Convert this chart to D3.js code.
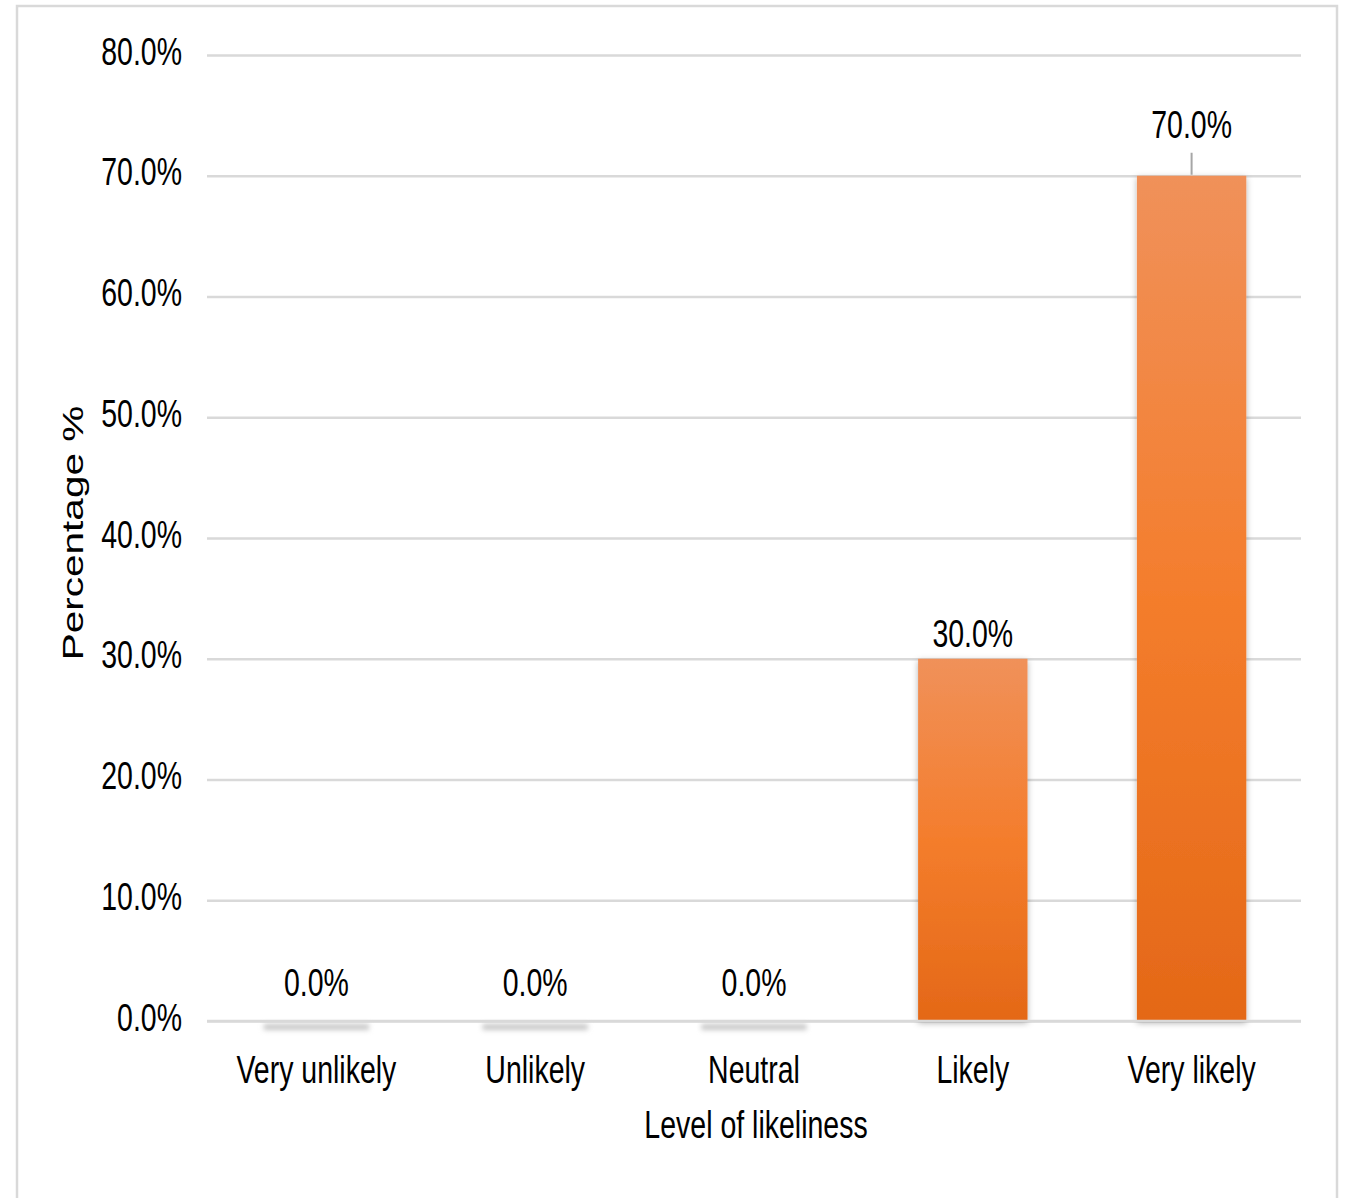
<!DOCTYPE html>
<html>
<head>
<meta charset="utf-8">
<script src="https://cdn.jsdelivr.net/npm/d3@7"></script>
<style>
  html, body { margin: 0; padding: 0; background: #fff; }
  svg { display: block; }
  text { font-family: "Liberation Sans", Arial, sans-serif; fill: #000; }
</style>
</head>
<body>
<svg id="chart" width="1348" height="1198"></svg>
<script>
const categories = ["Very unlikely", "Unlikely", "Neutral", "Likely", "Very likely"];
const values = [0.0, 0.0, 0.0, 30.0, 70.0];
const yTicks = [0, 10, 20, 30, 40, 50, 60, 70, 80];
const xTitle = "Level of likeliness";
const yTitle = "Percentage %";

const W = 1348, H = 1198;
const margin = { left: 207, right: 47, top: 55, bottom: 177 };
const fs = 28.5, sy = 1.35;

const svg = d3.select("#chart");
const defs = svg.append("defs");

const grad = defs.append("linearGradient").attr("id", "barGrad")
  .attr("x1", 0).attr("y1", 0).attr("x2", 0).attr("y2", 1);
grad.append("stop").attr("offset", "0%").attr("stop-color", "#F0915A");
grad.append("stop").attr("offset", "50%").attr("stop-color", "#F47D2C");
grad.append("stop").attr("offset", "100%").attr("stop-color", "#E46817");

const shadow = defs.append("filter").attr("id", "shadow")
  .attr("x", "-20%").attr("y", "-20%").attr("width", "140%").attr("height", "140%");
shadow.append("feDropShadow").attr("dx", 0).attr("dy", 2)
  .attr("stdDeviation", 3).attr("flood-color", "#000").attr("flood-opacity", 0.3);

const blur = defs.append("filter").attr("id", "blur")
  .attr("x", "-20%").attr("y", "-200%").attr("width", "140%").attr("height", "500%");
blur.append("feGaussianBlur").attr("stdDeviation", 2.5);

// Chart border
svg.append("rect").attr("x", 17).attr("y", 6).attr("width", 1320).attr("height", H + 20)
  .attr("fill", "none").attr("stroke", "#d9d9d9").attr("stroke-width", 2.5);

const x = d3.scaleBand().domain(categories)
  .range([margin.left, W - margin.right]).paddingInner(0.5).paddingOuter(0.25);
const y = d3.scaleLinear().domain([0, 80]).range([1021, 55]);

// Gridlines
const grid = d3.axisLeft(y).tickValues(yTicks).tickSize(-(W - margin.right - margin.left)).tickFormat("");
const gG = svg.append("g").attr("transform", `translate(${margin.left},0)`).call(grid);
gG.select(".domain").remove();
gG.selectAll("line").attr("stroke", "#d9d9d9").attr("stroke-width", 2.5);

// Y tick labels
const yAxis = d3.axisLeft(y).tickValues(yTicks).tickSize(0).tickPadding(0)
  .tickFormat(d => d3.format(".1f")(d) + "%");
const yG = svg.append("g").attr("transform", `translate(182,0)`).call(yAxis);
yG.select(".domain").remove();
yG.selectAll("text")
  .attr("font-size", fs).attr("dy", null).attr("x", 0).attr("y", 0)
  .attr("text-anchor", "end")
  .attr("transform", `translate(0,9) scale(1,${sy})`);

// Bars
const bars = svg.append("g");
categories.forEach((c, i) => {
  const v = values[i];
  if (v > 0) {
    bars.append("rect")
      .attr("x", x(c)).attr("width", x.bandwidth())
      .attr("y", y(v)).attr("height", y(0) - y(v))
      .attr("fill", "url(#barGrad)")
      .attr("filter", "url(#shadow)");
  } else {
    bars.append("rect")
      .attr("x", x(c) + 2).attr("width", x.bandwidth() - 4)
      .attr("y", y(0) + 3).attr("height", 6)
      .attr("fill", "#c8c8c8")
      .attr("filter", "url(#blur)");
  }
});

// Zero axis line
svg.append("line").attr("x1", margin.left).attr("x2", W - margin.right)
  .attr("y1", y(0)).attr("y2", y(0)).attr("stroke", "#d9d9d9").attr("stroke-width", 2.5);

// Data labels
const labels = svg.append("g");
categories.forEach((c, i) => {
  const v = values[i];
  const cx = x(c) + x.bandwidth() / 2;
  let base;
  if (v >= 60) {
    base = y(v) - 38;
    labels.append("line").attr("x1", cx).attr("x2", cx)
      .attr("y1", y(v) - 23).attr("y2", y(v) - 1)
      .attr("stroke", "#a6a6a6").attr("stroke-width", 2);
  } else {
    base = y(v) - 12;
    if (v === 0) base = y(v) - 25;
  }
  labels.append("text")
    .attr("text-anchor", "middle").attr("font-size", fs)
    .attr("transform", `translate(${cx},${base}) scale(1,${sy})`)
    .text(d3.format(".1f")(v) + "%");
});

// X category labels
const xAxis = d3.axisBottom(x).tickSize(0).tickPadding(0);
const xG = svg.append("g").call(xAxis);
xG.select(".domain").remove();
xG.selectAll("text")
  .attr("font-size", fs).attr("dy", null).attr("y", 0)
  .attr("transform", `translate(0,1083) scale(1,${sy})`);

// Axis titles
svg.append("text").attr("text-anchor", "middle").attr("font-size", fs)
  .attr("transform", `translate(756,1138) scale(1,${sy})`).text(xTitle);

svg.append("text").attr("text-anchor", "middle").attr("font-size", 30)
  .attr("transform", `translate(83,533) scale(1,${sy}) rotate(-90)`).text(yTitle);
</script>
</body>
</html>
